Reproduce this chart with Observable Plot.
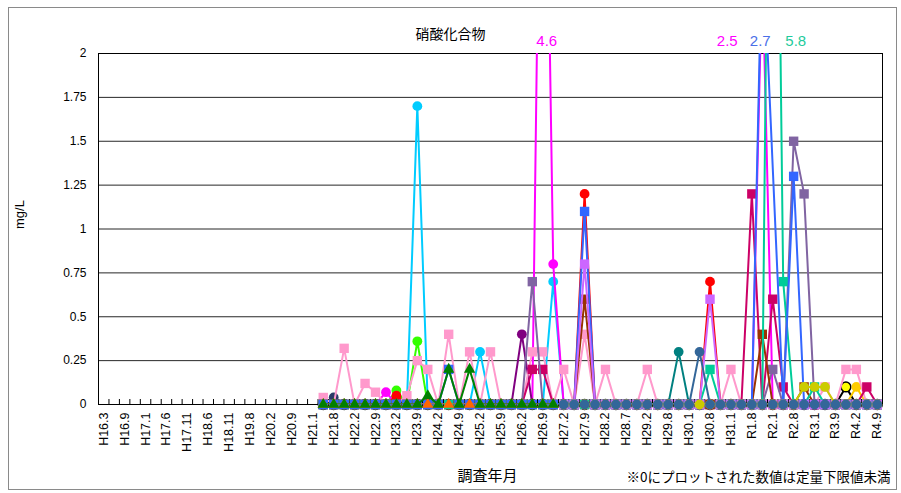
<!DOCTYPE html>
<html><head><meta charset="utf-8">
<script src="https://cdn.jsdelivr.net/npm/d3@7"></script>
<script src="https://cdn.jsdelivr.net/npm/@observablehq/plot@0.6"></script>
<style>
body{margin:0;background:#fff;}
#wrap{position:relative;width:901px;height:493px;}
#border{position:absolute;left:8px;top:7px;width:887px;height:481px;border:1px solid #8a8a8a;pointer-events:none;}
</style></head><body>
<div id="wrap"><div id="border"></div></div>
<script>
// ---- data ----
const title = "硝酸化合物";
const yTitle = "mg/L";
const xTitle = "調査年月";
const note = "※0にプロットされた数値は定量下限値未満";
const tickLabels = ["H16.3","H16.9","H17.1","H17.6","H17.11","H18.6","H18.11","H19.8","H20.2","H20.9","H21.1","H21.8","H22.2","H22.9","H23.2","H23.9","H24.2","H24.9","H25.2","H25.9","H26.2","H26.9","H27.2","H27.9","H28.2","H28.7","H29.2","H29.8","H30.1","H30.8","H31.1","R1.8","R2.1","R2.8","R3.1","R3.9","R4.2","R4.9"];
const yTicks = [0, 0.25, 0.5, 0.75, 1, 1.25, 1.5, 1.75, 2];
const firstIndex = 21; // first surveyed category (index in the 75 survey dates)

const lightBlue = [0,0,0,0,0,0,0,0,0,1.7, 0,0,0,0,0,0.3,0,0,0,0, 0,0,0.7,0,0,0,0,0,0,0, 0,0,0,0,0,0,0,0,0,0, 0,0,0,0,0,0,0,0,0,0, 0,0,0,0];
const lime      = [0,0,0,0,0,0,0,0.08,0,0.36, 0,0,0,0,0,0,0,0,0,0, 0,0,0,0,0,0,0,0,0,0, 0,0,0,0,0,0,0,0,0,0, 0,0,0,0,0,0,0,0,0,0, 0,0,0,0];
const magenta   = [0,0,0,0,0,0,0.07,0,0,0, 0,0,0,0,0,0,0,0,0,0, 0,4.6,0.8,0,0,0,0,0,0,0, 0,0,0,0,0,0,0,0,0,0, 0,0,2.5,0,0,0,0,0,0,0, 0,0,0,0];
const purple    = [0,0,0,0,0,0,0,0,0,0, 0,0,0,0,0,0,0,0,0,0.4, 0,0,0,0,0,0,0,0,0,0, 0,0,0,0,0,0,0,0,0,0, 0,0,0,0,0,0,0,0,0,0, 0,0,0,0];
const red       = [0,0,0,0,0,0,0,0.05,0,0, 0,0,0,0,0,0,0,0,0,0, 0,0,0,0,0,1.2,0,0,0,0, 0,0,0,0,0,0,0,0.7,0,0, 0,0,0,0,0,0,0,0,0,0, 0,0,0,0];
const navy      = [0,0.04,0,0,0,0,0,0,0,0, 0,0,0,0,0,0,0,0,0,0, 0,0,0,0,0,0,0,0,0,0, 0,0,0,0,0,0,0,0,0,0, 0,0,0,0,0,0,0,0,0,0, 0,0,0,0];
const teal      = [0,0,0,0,0,0,0,0,0,0, 0,0,0,0,0,0,0,0,0,0, 0,0,0,0,0,0,0,0,0,0, 0,0,0,0,0.3,0,0,0,0,0, 0,0,0,0,0,0,0,0,0,0, 0,0,0,0];
const yellowBk  = [0,0,0,0,0,0,0,0,0,0, 0,0,0,0,0,0,0,0,0,0, 0,0,0,0,0,0,0,0,0,0, 0,0,0,0,0,0,0,0,0,0, 0,0,0,0,0,0,0,0,0,0, 0.1,0,0,0];
const gold      = [0,0,0,0,0,0,0,0,0,0, 0,0,0,0,0,0,0,0,0,0, 0,0,0,0,0,0,0,0,0,0, 0,0,0,0,0,0,0,0,0,0, 0,0,0,0,0,0,0,0,0,0, 0,0.1,0,0];
const pink      = [0.04,0,0.32,0,0.12,0.07,0,0,0.05,0.25, 0.2,0,0.4,0,0.3,0,0.3,0,0,0, 0.3,0.3,0,0.2,0,0.4,0,0.2,0,0, 0,0.2,0,0,0,0,0,0,0,0.2, 0,0,0,0,0,0,0,0,0.1,0, 0.2,0.2,0,0];
const crimson   = [0,0,0,0,0,0,0,0,0,0, 0,0,0,0,0,0,0,0,0,0, 0.2,0.2,0,0,0,0,0,0,0,0, 0,0,0,0,0,0,0,0,0,0, 0,1.2,0,0.6,0.1,0,0,0,0,0, 0,0,0.1,0];
const greyPurple= [0,0,0,0,0,0,0,0,0,0, 0,0,0,0,0,0,0,0,0,0, 0.7,0,0,0,0,0,0,0,0,0, 0,0,0,0,0,0,0,0,0,0, 0,0,0,0.2,0,1.5,1.2,0,0,0, 0,0,0,0];
const brown     = [0,0,0,0,0,0,0,0,0,0, 0,0,0,0,0,0,0,0,0,0, 0,0,0,0,0,0.6,0,0,0,0, 0,0,0,0,0,0,0,0,0,0, 0,0,0.4,0,0,0,0.1,0,0,0, 0,0,0,0];
const seaGreen  = [0,0,0,0,0,0,0,0,0,0, 0,0,0,0,0,0,0,0,0,0, 0,0,0,0,0,0,0,0,0,0, 0,0,0,0,0,0,0,0.2,0,0, 0,0,0,5.8,0.7,0,0,0.1,0,0, 0,0,0,0];
const blue      = [0,0,0,0,0,0,0,0,0,0, 0,0,0.2,0,0,0,0,0,0,0, 0,0,0,0,0,1.1,0,0,0,0, 0,0,0,0,0,0,0,null,0,0, 0,0,2.7,null,0,1.3,0,0,0,0, 0,0,0,0];
const violet    = [null,null,null,null,null,null,null,null,null,null, null,null,null,null,null,null,null,null,null,null, null,null,null,0,0,0.8,0,0,0,0, 0,0,0,0,0,0,0,0.6,0,0, 0,0,0,0,0,0,0,0,0,0, 0,0,0,0];
const orange    = [0,0,0,0,0,0,0,0,0,0, 0,0,0,0,0,0,0,0,0,0, 0,0,0,null,null,null,null,null,null,null, null,null,null,null,null,null,null,null,null,null, null,null,null,null,null,null,null,null,null,null, null,null,null,null];
const darkGreen = [0,0,0,0,0,0,0,0,0,0, 0.05,0,0.2,0,0.2,0,0,0,0,0, 0,0,0,null,null,null,null,null,null,null, null,null,null,null,null,null,null,null,null,null, null,null,null,null,null,null,null,null,null,null, null,null,null,null];
const olive     = [null,null,null,null,null,null,null,null,null,null, null,null,null,null,null,null,null,null,null,null, null,null,null,0,0,0,0,0,0,0, 0,0,0,0,0,0,0,0,0,0, 0,0,0,0,0,0,0.1,0.1,0.1,0, 0,0,0,0];
const steelBlue = [null,null,null,null,null,null,null,null,null,null, null,null,null,null,null,null,null,null,null,null, null,null,null,0,0,0,0,0,0,0, 0,0,0,0,0,0,0.3,0,0,0, 0,0,0,0,0,0,0,0,0,0, 0,0,0,0];

// draw order (later = on top)
const seriesList = [
  ["lightBlue", lightBlue], ["lime", lime], ["magenta", magenta], ["purple", purple],
  ["red", red], ["navy", navy], ["teal", teal], ["yellowBk", yellowBk], ["gold", gold],
  ["pink", pink], ["crimson", crimson], ["greyPurple", greyPurple], ["brown", brown],
  ["seaGreen", seaGreen], ["blue", blue], ["violet", violet],
  ["orange", orange], ["darkGreen", darkGreen], ["olive", olive], ["steelBlue", steelBlue]
];

// ---- styles ----
const styles = {
  lightBlue: {line: "#00CCFF", fill: "#00CCFF", symbol: "circle"},
  lime:      {line: "#33FF00", fill: "#33FF00", symbol: "circle"},
  magenta:   {line: "#FF00FF", fill: "#FF00FF", symbol: "circle"},
  purple:    {line: "#800080", fill: "#800080", symbol: "circle"},
  red:       {line: "#FF0000", fill: "#FF0000", symbol: "circle"},
  navy:      {line: "#2B3A67", fill: "#2B3A67", symbol: "circle"},
  teal:      {line: "#008080", fill: "#008080", symbol: "circle"},
  yellowBk:  {line: "#000000", fill: "#FFFF00", stroke: "#000", symbol: "circle"},
  gold:      {line: "#FFCC00", fill: "#FFCC00", symbol: "circle"},
  pink:      {line: "#FF99CC", fill: "#FF99CC", symbol: "square"},
  crimson:   {line: "#CC0066", fill: "#CC0066", symbol: "square"},
  greyPurple:{line: "#8064A2", fill: "#8064A2", symbol: "square"},
  brown:     {line: "#993300", fill: "#993300", symbol: "square"},
  seaGreen:  {line: "#00CC99", fill: "#00CC99", symbol: "square"},
  blue:      {line: "#3366FF", fill: "#3366FF", symbol: "square"},
  violet:    {line: "#CC66FF", fill: "#CC66FF", symbol: "square"},
  orange:    {line: "#FF6600", fill: "#FF6600", symbol: "triangle"},
  darkGreen: {line: "#008000", fill: "#008000", symbol: "triangle"},
  olive:     {line: "#CCCC00", fill: "#CCCC00", symbol: "circle"},
  steelBlue: {line: "#336699", fill: "#336699", symbol: "circle"}
};
const symbolR = {circle: 4.9, square: 5.3, triangle: 4.2};
const offLabelDx = {"magenta:42": 4, "magenta:63": -35, "blue:63": -2, "seaGreen:64": 23};
const labelColor = {magenta: "#FF00FF", blue: "#4A6FE8", seaGreen: "#1FCB9C"};
const latin = "'Liberation Sans', Arial, 'Noto Sans CJK JP', sans-serif";
const jp = "'Noto Sans CJK JP', sans-serif";

const nCat = tickLabels.length * 2 - 1;

const marks = [
  Plot.gridY(yTicks, {stroke: "#000", strokeOpacity: 0.85, strokeWidth: 1}),
  Plot.axisX({ticks: d3.range(-0.5, nCat, 1), tickSize: 5, dy: -5, tickFormat: () => "", label: null, stroke: "#000"}),
  Plot.frame({stroke: "#000", strokeWidth: 1})
];

for (const [name, values] of seriesList) {
  const st = styles[name];
  const rows = values.map((v, p) => ({series: name, i: firstIndex + p, v}));
  const defined = rows.filter(d => d.v != null);
  marks.push(Plot.line(defined, {x: "i", y: "v", stroke: st.line, strokeWidth: 2, clip: true}));
  marks.push(Plot.dot(defined.filter(d => d.v <= 2), {
    x: "i", y: "v", symbol: st.symbol, r: symbolR[st.symbol],
    fill: st.fill, stroke: st.stroke || "none", strokeWidth: st.stroke ? 1.5 : 0
  }));
  for (const d of defined.filter(d => d.v > 2)) {
    marks.push(Plot.text([d], {
      x: "i", text: d => String(d.v), frameAnchor: "top", dy: -18,
      dx: offLabelDx[name + ":" + d.i] || 0,
      fill: labelColor[name] || st.line, fontSize: 15, fontFamily: latin
    }));
  }
}

marks.push(
  Plot.axisY({ticks: yTicks, tickSize: 0, tickPadding: 12, tickFormat: d => String(d), label: null, fontSize: 12, fontFamily: latin, fill: "#000"}),
  Plot.axisX({ticks: d3.range(0, nCat, 2), tickFormat: i => tickLabels[i / 2], tickRotate: -90, tickSize: 0, tickPadding: 8, label: null, fontSize: 12.5, fontFamily: latin, fill: "#000"}),
  Plot.text([title], {text: d => d, frameAnchor: "top", dx: -40, dy: -24, fontSize: 14, fontFamily: jp, fill: "#000"}),
  Plot.text([yTitle], {text: d => d, frameAnchor: "left", dx: -79, rotate: -90, fontSize: 13, fontFamily: latin, fill: "#000"}),
  Plot.text([xTitle], {text: d => d, frameAnchor: "bottom", dx: -3, dy: 76, fontSize: 15, fontFamily: jp, fill: "#000"}),
  Plot.text([note], {text: d => d, frameAnchor: "bottom-right", textAnchor: "end", dx: 8, dy: 77, fontSize: 13.5, fontFamily: jp, fill: "#000"})
);

const chart = Plot.plot({
  width: 901, height: 493,
  marginTop: 53, marginBottom: 89, marginLeft: 98, marginRight: 19,
  x: {type: "linear", domain: [-0.5, nCat - 0.5]},
  y: {domain: [0, 2]},
  style: {fontFamily: latin, fontSize: "12px", background: "transparent", overflow: "visible"},
  marks
});
document.getElementById("wrap").prepend(chart);
</script>
</body></html>
